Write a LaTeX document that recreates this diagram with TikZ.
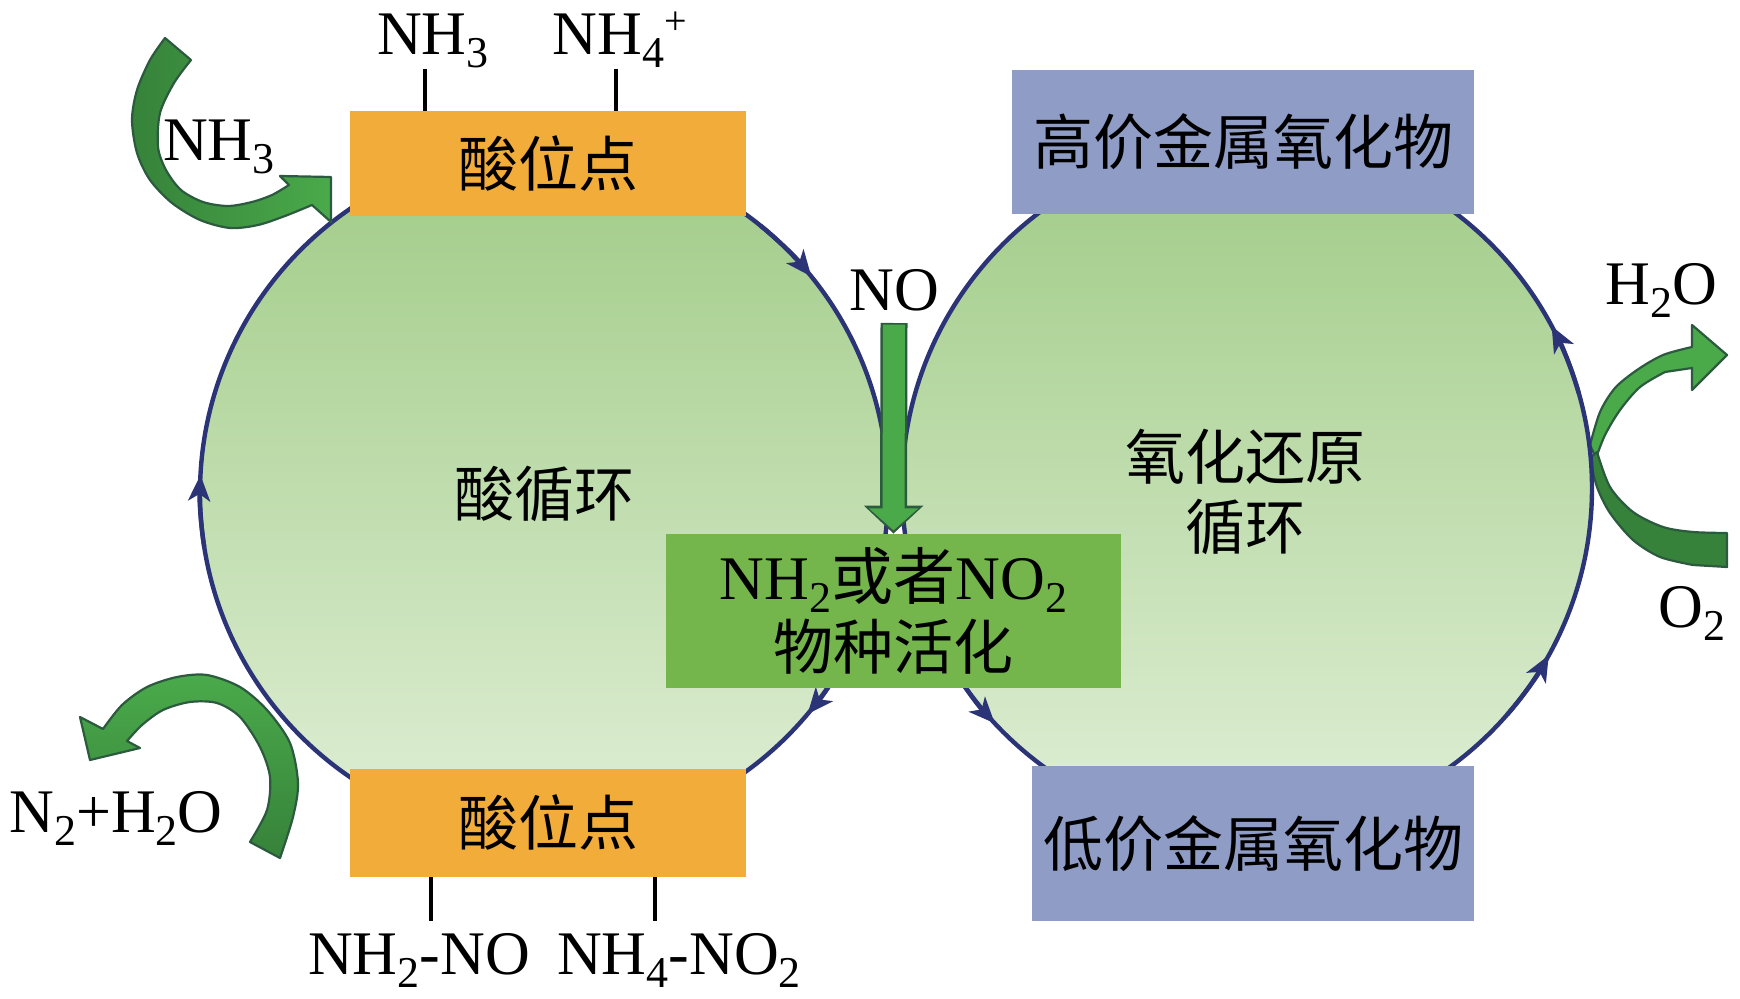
\documentclass[tikz,border=0pt]{standalone}
\usepackage{fontspec}
\setmainfont{Liberation Serif}
\newfontfamily\cjk{Noto Sans CJK SC}
\usetikzlibrary{arrows.meta,calc}
\newcommand\latsize{\fontsize{31}{35}\selectfont}
\newcommand\hansize{\cjk\fontsize{30}{35}\selectfont}
\newcommand\chsub[1]{\raisebox{-6.5pt}{\fontsize{22}{22}\selectfont #1}}
\newcommand\chsup[1]{\raisebox{10pt}{\fontsize{20}{20}\selectfont #1}}
\definecolor{navy}{RGB}{44,52,120}
\definecolor{orangebox}{RGB}{242,172,58}
\definecolor{bluebox}{RGB}{143,157,198}
\definecolor{actgreen}{RGB}{116,181,76}
\definecolor{circtop}{RGB}{160,203,134}
\definecolor{circbot}{RGB}{224,239,214}
\definecolor{arrlight}{RGB}{74,170,74}
\definecolor{arrdark}{RGB}{54,130,58}
\definecolor{arredge}{RGB}{44,90,62}
\begin{document}
\begin{tikzpicture}[x=0.5pt,y=-0.5pt,
 cyc/.style={circle,inner sep=0pt,draw=navy,line width=2.2pt,top color=circtop,bottom color=circbot},
 cycarrow/.style={draw=navy,line width=2.2pt,-{Stealth[length=13pt,width=11pt,inset=3.5pt]}},
 sitebox/.style={rectangle,inner sep=0pt,fill=orangebox,minimum width=198pt,font=\hansize},
 oxbox/.style={rectangle,inner sep=0pt,fill=bluebox,font=\hansize},
 actbox/.style={rectangle,inner sep=0pt,fill=actgreen,align=center,font=\latsize},
 lab/.style={inner sep=0pt,font=\latsize,anchor=base},
 hanlab/.style={inner sep=0pt,font=\hansize},
 tickline/.style={line width=1.7pt,black},
 bigarrow/.style={draw=arredge,line width=1.1pt,line join=round},
]
\useasboundingbox (0,0) rectangle (1740,999);

% right-hand thick arrows (behind the right circle)
\filldraw[bigarrow, fill=arrlight]
  plot[smooth] coordinates {(1590,445) (1600,412) (1615,388) (1637,370) (1663,355) (1692,347)}
  -- (1692,325) -- (1727,355) -- (1692,390) -- (1692,368)
  -- plot[smooth] coordinates {(1665,372) (1640,387) (1620,410) (1605,435) (1596,458)} -- cycle;
\filldraw[bigarrow, fill=arrdark]
  plot[smooth] coordinates {(1597,452) (1610,487) (1633,512) (1663,527) (1693,532) (1727,533)}
  -- (1727,567)
  -- plot[smooth] coordinates {(1693,565) (1660,557) (1633,540) (1610,513) (1597,487) (1590,458)} -- cycle;

% the two cycles
\node[cyc, minimum size=344pt] (LC) at (544,493) {};
\node[cyc, minimum size=345pt] (RC) at (1247,488) {};

% direction marks on the cycles
\draw[cycarrow] (LC.center) ++(-189:344) arc (-189:-177:344);
\draw[cycarrow] (LC.center) ++(-51:344) arc (-51:-39:344);
\draw[cycarrow] (LC.center) ++(28:344) arc (28:40:344);
\draw[cycarrow] (RC.center) ++(-16:345) arc (-16:-28:345);
\draw[cycarrow] (RC.center) ++(41:345) arc (41:29:345);
\draw[cycarrow] (RC.center) ++(149:345) arc (149:137:345);

% boxes
\node[sitebox, minimum height=52.5pt] (acidtop) at (548,163.5) {酸位点};
\node[sitebox, minimum height=54pt] (acidbot) at (548,823) {酸位点};
\node[oxbox, minimum width=231pt, minimum height=72pt] (hiox) at (1243,142) {高价金属氧化物};
\node[oxbox, minimum width=221pt, minimum height=77.5pt] (loox) at (1253,843.5) {低价金属氧化物};
\node[actbox, minimum width=227.5pt, minimum height=77pt] (act) at (893.5,611)
  {NH\chsub{2}{\cjk 或者}NO\chsub{2}\\{\hansize 物种活化}};

% cycle names
\node[hanlab] (acidcyc) at (544,494) {酸循环};
\node[hanlab, align=center] (redox) at (1245,492) {氧化还原\\循环};

% left-hand thick arrows
\filldraw[bigarrow, left color=arrdark, right color=arrlight]
  plot[smooth] coordinates {(165,38) (150,60) (137,90) (132,120) (137,153) (150,180) (172,203) (200,220) (230,228) (258,225) (285,216) (312,205)}
  -- (331,222) -- (331,177) -- (280,176)
  -- plot[smooth] coordinates {(289,185) (272,195) (252,202) (228,206) (203,202) (181,190) (166,170) (158,147) (160,113) (174,83) (191,60)} -- cycle;
\filldraw[bigarrow, top color=arrlight, bottom color=arrdark]
  plot[smooth] coordinates {(280,858) (293,817) (298,783) (290,743) (267,710) (240,687) (207,675) (177,677) (147,687) (122,705) (103,729)}
  -- (80,717) -- (90,760) -- (140,748)
  -- plot[smooth] coordinates {(127,741) (142,725) (163,710) (190,702) (217,703) (240,717) (260,747) (270,777) (267,810) (250,842)} -- cycle;

% labels
\node[lab] (nh3a) at (433,55) {NH\chsub{3}};
\node[lab] (nh4) at (620,55) {NH\chsub{4}\chsup{+}};
\node[lab] (nh3b) at (219,161) {NH\chsub{3}};
\node[lab] (no) at (894,311) {NO};
\node[lab] (h2o) at (1661,305) {H\chsub{2}O};
\node[lab] (o2) at (1692,627) {O\chsub{2}};
\node[lab] (n2h2o) at (116,832) {N\chsub{2}+H\chsub{2}O};
\node[lab] (nh2no) at (419,974) {NH\chsub{2}-NO};
\node[lab] (nh4no2) at (679,974) {NH\chsub{4}-NO\chsub{2}};

% NO feed arrow
\draw[arredge, line width=13.5pt, -{Triangle[length=14pt,width=29pt]}] ([yshift=-5.5pt]no.south) -- (act.north);
\draw[arrlight, line width=11pt, -{Triangle[length=11pt,width=24pt]}, shorten >=1.6pt, shorten <=0.8pt] ([yshift=-5.5pt]no.south) -- (act.north);

% ticks to the acid sites
\coordinate (tA) at (425,69);
\coordinate (tB) at (616,69);
\coordinate (tC) at (431,921);
\coordinate (tD) at (655,921);
\draw[tickline] (tA) -- (tA |- acidtop.north);
\draw[tickline] (tB) -- (tB |- acidtop.north);
\draw[tickline] (tC |- acidbot.south) -- (tC);
\draw[tickline] (tD |- acidbot.south) -- (tD);
\end{tikzpicture}
\end{document}
